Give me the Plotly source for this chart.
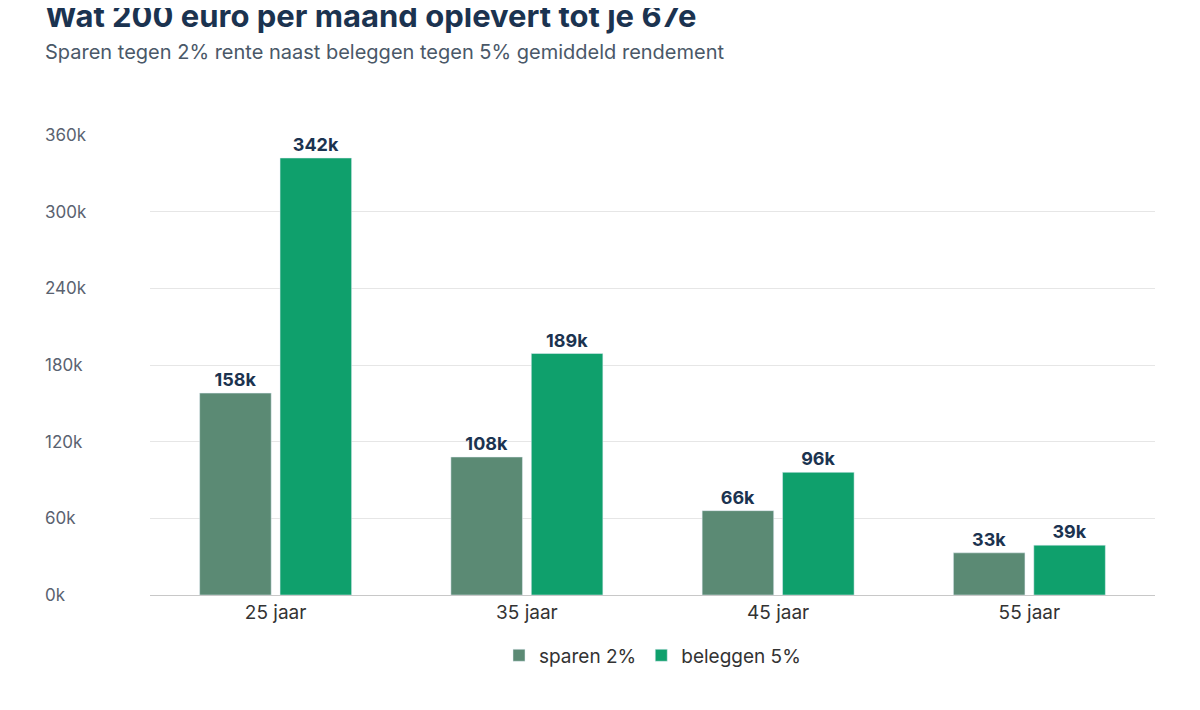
import plotly.graph_objects as go

categories = ["25 jaar", "35 jaar", "45 jaar", "55 jaar"]
sparen = [158000, 108000, 66000, 33000]
beleggen = [342000, 189000, 96000, 39000]
sparen_labels = ["158k", "108k", "66k", "33k"]
beleggen_labels = ["342k", "189k", "96k", "39k"]
y_ticks = [0, 60000, 120000, 180000, 240000, 300000, 360000]
y_tick_labels = ["0k", "60k", "120k", "180k", "240k", "300k", "360k"]

navy = "#1b3350"
fig = go.Figure()
fig.add_bar(x=categories, y=sparen, name="sparen 2%", marker_color="#5b8a74",
            text=sparen_labels, textposition="outside", cliponaxis=False,
            textfont=dict(size=18, color=navy, family="Inter", weight="bold"))
fig.add_bar(x=categories, y=beleggen, name="beleggen 5%", marker_color="#0fa06c",
            text=beleggen_labels, textposition="outside", cliponaxis=False,
            textfont=dict(size=18, color=navy, family="Inter", weight="bold"))

for v, t in zip(y_ticks, y_tick_labels):
    fig.add_annotation(x=0, xref="paper", xshift=-107, y=v, yref="y", text=t,
                       showarrow=False, xanchor="left", yanchor="middle",
                       font=dict(size=17, color="#5a6270", family="Inter"))

fig.add_annotation(x=0, xref="paper", xshift=-107, y=1, yref="paper", yshift=120,
                   text="<b>Wat 200 euro per maand oplevert tot je 67e</b>", showarrow=False,
                   xanchor="left", yanchor="middle", font=dict(size=31, color=navy, family="Inter"))
fig.add_annotation(x=0, xref="paper", xshift=-107, y=1, yref="paper", yshift=83,
                   text="Sparen tegen 2% rente naast beleggen tegen 5% gemiddeld rendement",
                   showarrow=False, xanchor="left", yanchor="middle",
                   font=dict(size=20, color="#4a5868", family="Inter"))

fig.update_layout(
    width=1200, height=710, plot_bgcolor="white", paper_bgcolor="white",
    margin=dict(l=142, r=53, t=127, b=123),
    font=dict(family="Inter", color="#333"),
    barmode="group", bargap=0.36, bargroupgap=0.11,
    showlegend=True,
    legend=dict(orientation="h", x=0.5, xanchor="center", y=-0.09, yanchor="top",
                font=dict(size=19, color="#333"), itemwidth=30),
    xaxis=dict(tickfont=dict(size=19, color="#333"), showline=True, linecolor="#c8c8c8",
               ticks=""),
    yaxis=dict(range=[0, 360000], tickvals=y_ticks, showticklabels=False,
               gridcolor="#e6e6e6", zeroline=False),
)
fig.write_html("out.html")
